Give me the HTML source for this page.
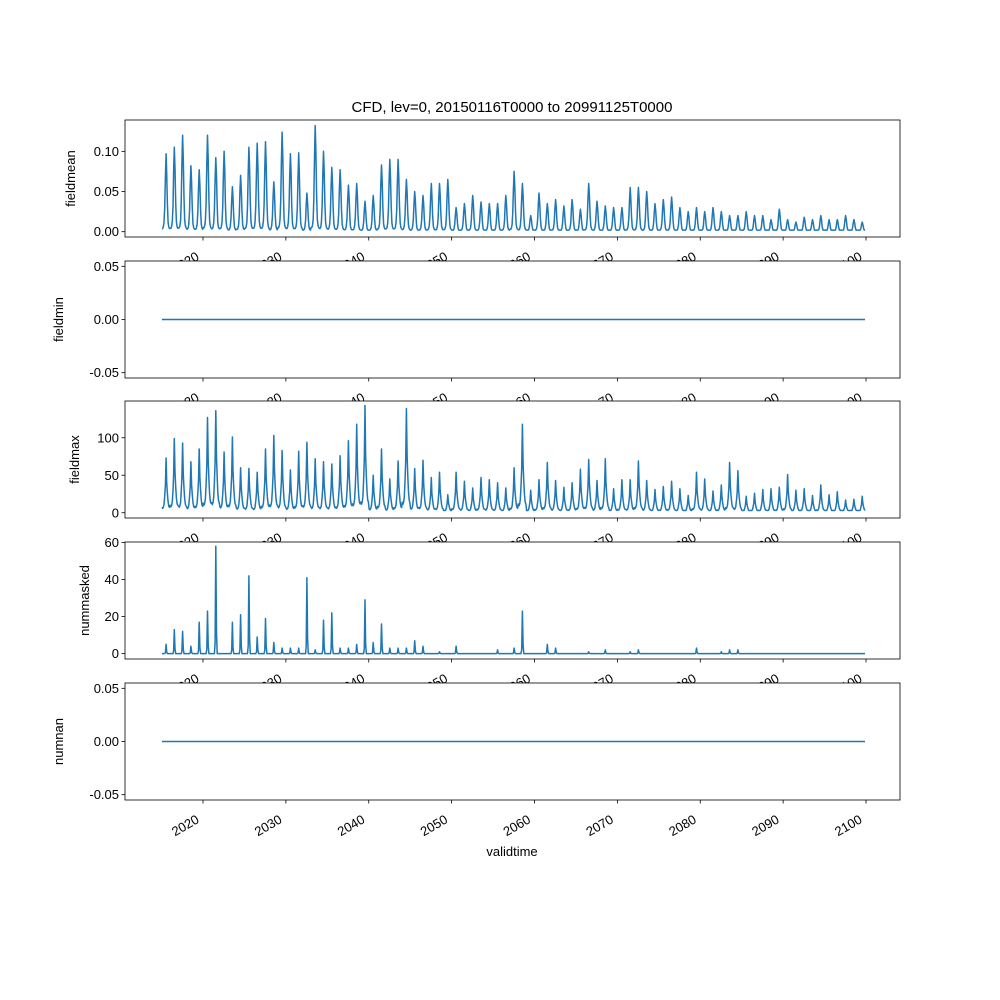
<!DOCTYPE html>
<html><head><meta charset="utf-8"><style>
body{margin:0;background:#fff}
svg{display:block;font-family:"Liberation Sans","DejaVu Sans",sans-serif}
</style></head><body>
<svg id="chart" width="1000" height="1000" viewBox="0 0 1000 1000" xmlns="http://www.w3.org/2000/svg">
<rect width="1000" height="1000" fill="#fff"/>
<text x="512" y="112" font-size="15" text-anchor="middle">CFD, lev=0, 20150116T0000 to 20991125T0000</text>
</svg>
<script>
const meanPeaks=[0.097,0.105,0.12,0.082,0.077,0.12,0.092,0.1,0.056,0.07,0.105,0.11,0.112,0.062,0.124,0.097,0.098,0.048,0.132,0.1,0.08,0.077,0.058,0.06,0.038,0.045,0.083,0.09,0.09,0.065,0.05,0.045,0.06,0.06,0.065,0.03,0.035,0.045,0.037,0.035,0.035,0.045,0.075,0.06,0.02,0.048,0.035,0.04,0.032,0.04,0.028,0.06,0.038,0.032,0.03,0.03,0.055,0.055,0.05,0.035,0.04,0.043,0.03,0.025,0.03,0.025,0.03,0.025,0.02,0.02,0.025,0.02,0.02,0.015,0.028,0.015,0.012,0.018,0.015,0.02,0.015,0.015,0.02,0.015,0.012];
const meanSeason=[0.04,0.04,0.06,0.12,0.3,0.7,1,0.75,0.35,0.12,0.06,0.04];
const maxPeaks=[73,99,93,68,85,127,136,81,101,60,59,54,85,103,83,57,82,94,72,68,65,76,96,118,143,50,85,45,69,139,59,70,47,54,24,54,42,33,47,44,40,33,60,118,30,44,67,43,34,40,58,71,43,72,32,44,44,69,43,31,35,42,32,23,54,45,29,37,67,56,22,26,31,32,34,51,30,32,23,37,24,28,17,18,22];
const maxSeason=[0.1,0.08,0.1,0.15,0.3,0.5,1,0.55,0.35,0.2,0.12,0.1];
const maskPeaks=[5,13,12,4,17,23,58,0,17,21,42,9,19,6,3,3,3,41,2,18,22,3,3,5,29,6,16,3,3,3,7,4,0,1,0,4,0,0,0,0,2,0,3,23,0,0,5,3,0,0,0,1,0,2,0,0,1,2,0,0,0,0,0,0,3,0,0,1,2,2,0,0,0,0,0,0,0,0,0,0,0,0,0,0,0];
const maskSeason=[0,0,0,0,0,0.1,1,0.2,0,0,0,0];
const xTicks=[2020,2030,2040,2050,2060,2070,2080,2090,2100];
const panels=[
 {name:"fieldmean",top:120,bot:237,ymin:-0.0066,ymax:0.139,ticks:[0,0.05,0.1],fmt:v=>v.toFixed(2),kind:"mean"},
 {name:"fieldmin",top:261,bot:378,ymin:-0.055,ymax:0.055,ticks:[-0.05,0,0.05],fmt:v=>v.toFixed(2),kind:"zero"},
 {name:"fieldmax",top:401,bot:518,ymin:-7,ymax:149,ticks:[0,50,100],fmt:v=>String(v),kind:"max"},
 {name:"nummasked",top:542,bot:659,ymin:-2.9,ymax:60.3,ticks:[0,20,40,60],fmt:v=>String(v),kind:"mask"},
 {name:"numnan",top:683,bot:800,ymin:-0.055,ymax:0.055,ticks:[-0.05,0,0.05],fmt:v=>v.toFixed(2),kind:"zero"}
];
const svg=document.getElementById('chart');
const NS="http://www.w3.org/2000/svg";
const L=125,R=900;
const xs=t=>203+(t-2020)*(866-203)/80;
function mk(tag,attrs,parent){const e=document.createElementNS(NS,tag);for(const k in attrs)e.setAttribute(k,attrs[k]);(parent||svg).appendChild(e);return e;}
function series(kind){const out=[];for(let y=0;y<85;y++){for(let m=0;m<12;m++){if(y===84&&m>10)break;let v=0;
 if(kind==="mean")v=Math.max(0.002,meanPeaks[y]*meanSeason[m]);
 else if(kind==="max")v=Math.max(3,maxPeaks[y]*maxSeason[m]);
 else if(kind==="mask")v=maskPeaks[y]*maskSeason[m];
 out.push([2015+y+(m+0.5)/12,v]);}}return out;}
panels.forEach(p=>{
 const g=mk('g',{});
 
 
 const ys=v=>p.bot-(v-p.ymin)/(p.ymax-p.ymin)*(p.bot-p.top);
 mk('rect',{x:L,y:p.top,width:R-L,height:p.bot-p.top,fill:'#fff'},g);
 const d=series(p.kind).map((q,i)=>(i?'L':'M')+xs(q[0]).toFixed(1)+','+ys(q[1]).toFixed(1)).join('');
 const path=mk('path',{d:d,fill:'none',stroke:'#1f77b4','stroke-width':1.5,'stroke-linejoin':'round'},g);
 
 
 mk('rect',{x:L,y:p.top,width:R-L,height:p.bot-p.top,fill:'none',stroke:'#000','stroke-width':0.8},g);
 p.ticks.forEach(t=>{const y=ys(t);mk('line',{x1:L-3.5,x2:L,y1:y,y2:y,stroke:'#000','stroke-width':0.8},g);
  const tx=mk('text',{x:L-6,y:y+4.5,'font-size':13,'text-anchor':'end'},g);tx.textContent=p.fmt(t);
  
  });
 xTicks.forEach(t=>{const x=xs(t);mk('line',{x1:x,x2:x,y1:p.bot,y2:p.bot+3.5,stroke:'#000','stroke-width':0.8},g);
  const bx=x-3,by=p.bot+22;
  const tx=mk('text',{x:bx,y:by,'font-size':13,'text-anchor':'end',transform:`rotate(-30 ${bx} ${by})`},g);tx.textContent=t;
  
  });
 const cy=(p.top+p.bot)/2;
 const lab=mk('text',{x:0,y:0,'font-size':13,'text-anchor':'middle',transform:`translate(${p.kind==="mean"?75:p.kind==="max"?79:p.kind==="mask"?89:63},${cy}) rotate(-90)`},g);
 lab.textContent=p.name;
 
 
});
const xl=mk('text',{x:512,y:856,'font-size':13,'text-anchor':'middle'});
xl.textContent='validtime';


</script>
</body></html>
